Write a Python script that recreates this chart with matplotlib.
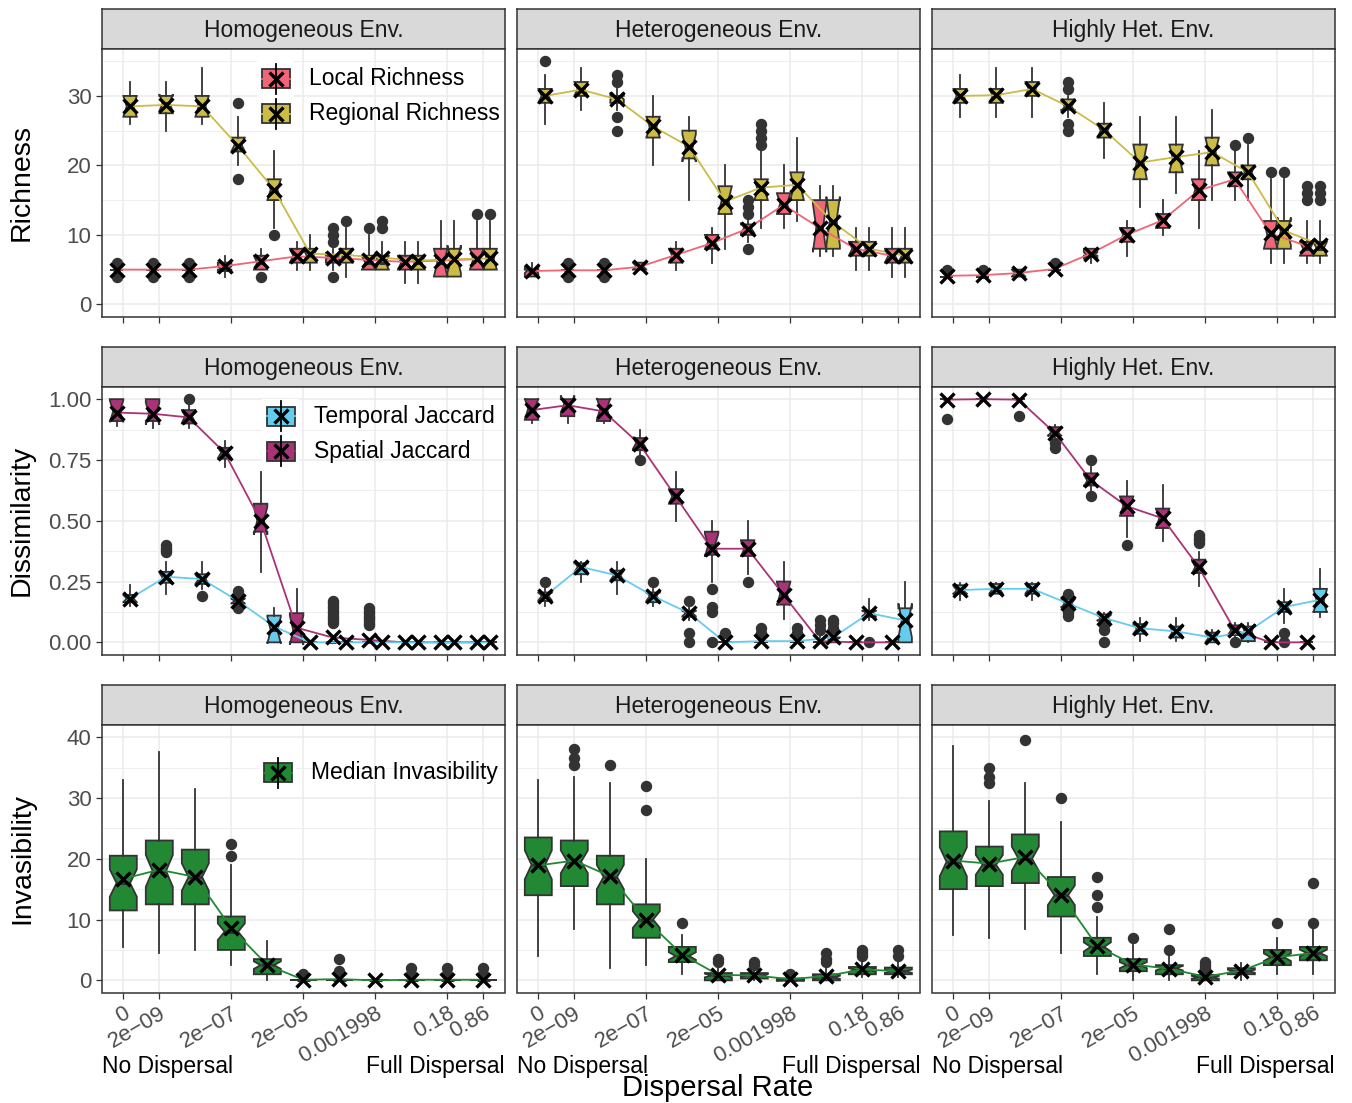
import numpy as np
import matplotlib
matplotlib.use("Agg")
import matplotlib.pyplot as plt
from matplotlib.patches import Rectangle
from matplotlib.lines import Line2D

plt.rcParams['font.family'] = ['Liberation Sans', 'DejaVu Sans']

W, H, DPI = 1352, 1103, 100

# ---------------------------------------------------------------- data
envs = ['Homogeneous Env.', 'Heterogeneous Env.', 'Highly Het. Env.']
x_ticks = [0, 1, 3, 5, 7, 9, 10]
x_labels = ['0', '2e\u221209', '2e\u221207', '2e\u221205', '0.001998', '0.18', '0.86']

# each box row: [whisker low, q1, median, q3, whisker high]
# --- Richness
local_hom = [[5, 5, 5, 5, 5], [5, 5, 5, 5, 5], [5, 5, 5, 5, 5], [4, 5, 5, 6, 7],
             [5, 5, 6, 7, 8], [5, 6, 7, 8, 9], [5, 6, 7, 7, 8], [5, 5, 6, 7, 10],
             [3, 5, 6, 7, 9], [4, 4, 6, 8, 12], [5, 5, 6.5, 8, 12]]
local_hom_out = [[4, 6], [4, 6], [4, 6], [], [4], [], [4, 9, 10, 11], [11], [], [], [13]]
local_hom_mean = [5.0, 5.0, 5.0, 5.5, 6.2, 6.9, 6.7, 6.4, 6.1, 6.3, 6.5]

regional_hom = [[26, 27, 28.5, 30, 32], [25, 27.5, 29, 30, 32], [26, 27, 28.5, 30, 34],
                [20, 22, 23, 24, 27], [11, 15, 16.5, 18, 22], [5, 6, 7, 8, 10],
                [4, 6, 7, 8, 11], [5, 5, 6, 7, 9], [3, 5, 6, 7, 9], [4, 4, 6.5, 8, 12],
                [5, 5, 6.5, 8, 12]]
regional_hom_out = [[], [], [], [18, 29], [10], [], [12], [11, 12], [], [], [13]]
regional_hom_mean = [28.5, 28.7, 28.5, 22.8, 16.5, 7.3, 7.1, 6.7, 6.3, 6.5, 6.6]

local_het = [[4, 4, 5, 5, 6], [5, 5, 5, 5, 5], [5, 5, 5, 5, 5], [5, 5, 5.5, 6, 6],
             [5, 6, 7, 8, 9], [6, 8, 9, 10, 11], [9, 10, 11, 11.5, 12], [11, 13, 14.5, 16, 20],
             [7, 8, 11, 15, 17], [5, 7, 8, 9, 11], [4, 6, 7, 8, 11]]
local_het_out = [[], [4, 6], [4, 6], [], [], [], [8, 13, 14, 15], [], [], [], []]
local_het_mean = [4.8, 4.9, 4.9, 5.4, 7.1, 8.8, 10.9, 14.3, 11.0, 8.0, 7.0]

regional_het = [[26, 29, 30, 31, 33], [28, 30, 31, 32, 34], [28, 29, 30, 30, 31],
                [20, 24, 25.5, 27, 30], [15, 21, 22.5, 25, 27], [8, 13, 15, 17, 20],
                [11, 15, 16.5, 18, 22], [12, 15, 17, 19, 24], [7, 8, 12, 15, 17],
                [5, 7, 8, 9, 11], [4, 6, 7, 8, 11]]
regional_het_out = [[35], [], [25, 27, 32, 33], [], [], [], [23, 24, 25, 26], [], [], [], []]
regional_het_mean = [30.0, 30.9, 29.5, 25.6, 22.7, 14.8, 16.8, 17.2, 11.8, 8.0, 7.0]

local_hhet = [[4, 4, 4, 4, 4], [4, 4, 4, 4, 4], [4, 4, 4.5, 5, 5], [5, 5, 5, 5, 5],
              [6, 7, 7, 8, 8], [7, 9, 10, 11, 12], [10, 11, 12, 13, 15], [11, 15, 16.5, 18, 22],
              [15, 17, 18, 19, 22], [6, 8, 10, 12, 18], [6, 7, 8, 9, 12]]
local_hhet_out = [[5], [5], [], [6], [], [], [], [], [23], [19], [15, 16, 17]]
local_hhet_mean = [4.1, 4.2, 4.5, 5.1, 7.3, 10.0, 12.1, 16.4, 18.0, 10.2, 8.4]

regional_hhet = [[27, 29, 30, 31, 33], [27, 29, 30, 31, 34], [27, 30, 31, 32, 34],
                 [27, 28, 28.5, 29.5, 30], [21, 24, 25, 26, 29], [14, 18, 20.5, 23, 27],
                 [16, 19, 21, 23, 27], [15, 20, 22, 24, 28], [15, 18, 19, 20, 23],
                 [6, 8, 10.5, 12, 18], [6, 7, 8, 9, 12]]
regional_hhet_out = [[], [], [], [25, 26, 31, 32], [], [], [], [], [24], [19], [15, 16, 17]]
regional_hhet_mean = [30.0, 30.1, 31.0, 28.5, 25.1, 20.4, 21.2, 21.9, 19.0, 10.6, 8.6]

# --- Dissimilarity
spatial_hom = [[0.89, 0.91, 0.95, 1.0, 1.0], [0.88, 0.91, 0.94, 1.0, 1.0],
               [0.88, 0.90, 0.93, 0.955, 0.98], [0.72, 0.755, 0.78, 0.80, 0.83],
               [0.29, 0.455, 0.50, 0.57, 0.70], [0.0, 0.0, 0.05, 0.12, 0.22],
               [0, 0, 0, 0, 0], [0, 0, 0, 0, 0], [0, 0, 0, 0, 0], [0, 0, 0, 0, 0], [0, 0, 0, 0, 0]]
spatial_hom_out = [[], [], [1.0], [], [], [],
                   [0.08, 0.09, 0.10, 0.11, 0.12, 0.13, 0.14, 0.15, 0.16, 0.17],
                   [0.07, 0.08, 0.09, 0.10, 0.11, 0.12, 0.13, 0.14], [], [], []]
spatial_hom_mean = [0.945, 0.94, 0.925, 0.78, 0.50, 0.06, 0.02, 0.01, 0.0, 0.0, 0.0]

temporal_hom = [[0.15, 0.165, 0.18, 0.195, 0.235], [0.20, 0.245, 0.265, 0.29, 0.33],
                [0.22, 0.24, 0.26, 0.28, 0.33], [0.15, 0.16, 0.17, 0.18, 0.19],
                [0.0, 0.0, 0.05, 0.11, 0.14], [0, 0, 0, 0, 0], [0, 0, 0, 0, 0],
                [0, 0, 0, 0, 0], [0, 0, 0, 0, 0], [0, 0, 0, 0, 0], [0, 0, 0, 0, 0]]
temporal_hom_out = [[], [0.37, 0.38, 0.39, 0.40], [0.19], [0.14, 0.20, 0.21], [], [], [], [], [], [], []]
temporal_hom_mean = [0.18, 0.27, 0.26, 0.17, 0.065, 0.0, 0.0, 0.0, 0.0, 0.0, 0.0]

spatial_het = [[0.90, 0.915, 0.96, 1.0, 1.0], [0.90, 0.93, 0.98, 1.0, 1.0],
               [0.90, 0.91, 0.96, 1.0, 1.0], [0.77, 0.79, 0.82, 0.84, 0.875],
               [0.50, 0.57, 0.60, 0.63, 0.70], [0.25, 0.36, 0.40, 0.455, 0.50],
               [0.28, 0.355, 0.385, 0.42, 0.50], [0.095, 0.155, 0.20, 0.25, 0.33],
               [0, 0, 0, 0, 0.02], [0, 0, 0, 0, 0], [0, 0, 0, 0, 0]]
spatial_het_out = [[], [], [], [0.75], [], [0.0, 0.125, 0.145, 0.22], [0.25], [],
                   [0.05, 0.07, 0.09], [], []]
spatial_het_mean = [0.955, 0.975, 0.95, 0.815, 0.60, 0.385, 0.385, 0.195, 0.005, 0.0, 0.0]

temporal_het = [[0.15, 0.17, 0.19, 0.205, 0.23], [0.25, 0.28, 0.31, 0.325, 0.33],
                [0.20, 0.255, 0.275, 0.295, 0.33], [0.15, 0.165, 0.19, 0.205, 0.22],
                [0.09, 0.105, 0.12, 0.13, 0.15], [0, 0, 0, 0, 0], [0, 0, 0, 0, 0],
                [0, 0, 0, 0, 0], [0, 0, 0.01, 0.02, 0.03], [0.09, 0.105, 0.12, 0.13, 0.18],
                [0.0, 0.0, 0.09, 0.14, 0.25]]
temporal_het_out = [[0.25], [], [], [0.25], [0.0, 0.04, 0.17], [0.04], [0.04, 0.06],
                    [0.04, 0.06], [0.06, 0.08, 0.09], [0.0], []]
temporal_het_mean = [0.19, 0.31, 0.275, 0.19, 0.12, 0.0, 0.005, 0.005, 0.02, 0.12, 0.09]

spatial_hhet = [[1, 1, 1, 1, 1], [1, 1, 1, 1, 1], [1, 1, 1, 1, 1],
                [0.835, 0.85, 0.865, 0.885, 0.895], [0.62, 0.645, 0.665, 0.695, 0.72],
                [0.435, 0.52, 0.56, 0.60, 0.665], [0.415, 0.47, 0.51, 0.55, 0.645],
                [0.23, 0.285, 0.31, 0.34, 0.37], [0.01, 0.03, 0.05, 0.07, 0.08],
                [0, 0, 0, 0, 0], [0, 0, 0, 0, 0]]
spatial_hhet_out = [[0.92], [], [0.93], [0.80, 0.82], [0.60, 0.75], [0.40], [],
                    [0.41, 0.42, 0.43, 0.44], [0.0], [], []]
spatial_hhet_mean = [0.998, 1.0, 0.998, 0.862, 0.667, 0.56, 0.51, 0.31, 0.05, 0.0, 0.0]

temporal_hhet = [[0.175, 0.20, 0.215, 0.235, 0.245], [0.20, 0.20, 0.22, 0.24, 0.245],
                 [0.175, 0.20, 0.22, 0.24, 0.245], [0.13, 0.145, 0.16, 0.18, 0.19],
                 [0.085, 0.09, 0.10, 0.115, 0.12], [0.005, 0.035, 0.055, 0.075, 0.10],
                 [0.005, 0.02, 0.045, 0.065, 0.10], [0.0, 0.0, 0.02, 0.04, 0.05],
                 [0.0, 0.005, 0.045, 0.065, 0.08], [0.08, 0.125, 0.145, 0.165, 0.22],
                 [0.105, 0.125, 0.17, 0.22, 0.30]]
temporal_hhet_out = [[], [], [], [0.11, 0.12, 0.13, 0.20], [0.0, 0.05, 0.07], [], [], [], [],
                     [0.0, 0.04], []]
temporal_hhet_mean = [0.215, 0.22, 0.22, 0.16, 0.10, 0.058, 0.045, 0.02, 0.045, 0.145, 0.175]

# --- Invasibility
inv_hom = [[5.5, 11.5, 16, 20.5, 33], [4.5, 12.5, 18, 23, 37.5], [5, 12.5, 17, 21.5, 31.5],
           [2.5, 5, 8, 10.5, 19], [0, 1, 2.5, 3.5, 6.5], [0, 0, 0, 0, 0], [0, 0, 0, 0, 0],
           [0, 0, 0, 0, 0], [0, 0, 0, 0, 0], [0, 0, 0, 0, 0], [0, 0, 0, 0, 0]]
inv_hom_out = [[], [], [], [20.5, 22.5], [], [1.0], [1.5, 3.5], [], [1, 2], [1, 2], [1, 2]]
inv_hom_mean = [16.7, 18.2, 17.0, 8.6, 2.5, 0.1, 0.2, 0.0, 0.1, 0.1, 0.1]

inv_het = [[4, 14, 19, 23.5, 33], [8.5, 15.5, 19.5, 23, 33.5], [2, 12.5, 17, 20.5, 32.5],
           [2.5, 7, 10, 12.5, 20], [1, 3, 4, 5.5, 7.5], [0, 0, 0.8, 1.2, 2.5],
           [0, 0.3, 0.8, 1.2, 2], [0, 0, 0, 0.3, 0.5], [0, 0, 0.5, 1.0, 2],
           [0.5, 1, 1.7, 2.2, 3.5], [0.5, 1, 1.5, 2.1, 3.5]]
inv_het_out = [[], [35.5, 36.5, 38], [35.5], [28, 32], [9.5], [3, 3.5], [2.5, 3], [1.0],
               [3, 3.5, 4.5], [4, 4.5, 5], [4, 5]]
inv_het_mean = [18.9, 19.7, 17.1, 9.9, 4.2, 0.9, 0.8, 0.2, 0.7, 1.8, 1.5]

inv_hhet = [[7.5, 15, 19.5, 24.5, 38.5], [7, 15.5, 19, 22, 29.5], [8.5, 16, 20, 24, 32.5],
            [4.5, 10.5, 14, 17, 26], [1, 4, 5.5, 7, 10.5], [0, 1.5, 2.5, 3.5, 5.8],
            [0, 1, 2, 2.5, 4], [0, 0, 0.5, 0.9, 1.5], [0, 1, 1.5, 2, 2.8],
            [1, 2.5, 3.8, 5, 7], [1, 3.3, 4.5, 5.5, 8.5]]
inv_hhet_out = [[], [32.5, 33.5, 35], [39.5], [30], [12, 14, 17], [7], [5, 8.5], [2, 2.5, 3],
                [], [9.5], [9.5, 16]]
inv_hhet_mean = [19.7, 19.2, 20.3, 14.0, 5.6, 2.6, 1.9, 0.6, 1.6, 3.8, 4.5]

# ---------------------------------------------------------------- styling
C_LOCAL, C_REGIONAL = '#EE6677', '#CCBB44'
C_TEMPORAL, C_SPATIAL = '#66CCEE', '#AA3377'
C_INV = '#228833'
DARK = '#333333'

col_left = [101.7, 516.7, 931.7]
panel_w = 403.3
strip_top = [9.0, 347.0, 685.0]
strip_h = 40.0
panel_h = 267.5

fig = plt.figure(figsize=(W / DPI, H / DPI), dpi=DPI)


def px_axes(left, top, w, h):
    return fig.add_axes([left / W, 1 - (top + h) / H, w / W, h / H])


def draw_boxes(ax, stats, fliers, color, offset, width, n):
    pos = np.arange(len(stats)) + offset
    bstats = []
    for (lo, q1, med, q3, hi), fl in zip(stats, fliers):
        half = 1.58 * (q3 - q1) / np.sqrt(n)
        bstats.append(dict(whislo=lo, q1=q1, med=med, q3=q3, whishi=hi,
                           fliers=fl, cilo=med - half, cihi=med + half))
    ax.bxp(bstats, positions=pos, widths=width, shownotches=True, patch_artist=True,
           showcaps=False, manage_ticks=False, zorder=2,
           boxprops=dict(facecolor=color, edgecolor=DARK, linewidth=1.3),
           whiskerprops=dict(color=DARK, linewidth=1.3),
           medianprops=dict(color=DARK, linewidth=2.2),
           flierprops=dict(marker='o', markerfacecolor=DARK, markeredgecolor=DARK,
                           markersize=7.2))


def draw_mean(ax, means, color, offset):
    pos = np.arange(len(means)) + offset
    ax.plot(pos, means, color=color, lw=1.3, zorder=3)
    ax.plot(pos, means, ls='none', marker='x', ms=10.5, mew=2.4, color='black', zorder=4)


def add_key(ax, bg_left, bg_top, i, color, label, ph):
    T = ax.transAxes
    fx = lambda p: p / panel_w
    fy = lambda p: 1 - p / ph
    kx, ky = bg_left, bg_top + 35 * i
    cx, cy = kx + 18.5, ky + 17.5
    ax.add_patch(Rectangle((fx(kx), fy(ky + 35)), fx(37), 35 / ph, transform=T,
                           facecolor='white', edgecolor='none', zorder=6))
    ax.add_patch(Rectangle((fx(kx + 4.5), fy(cy + 9.5)), fx(28), 19 / ph, transform=T,
                           facecolor=color, edgecolor=DARK, lw=1.3, zorder=7))
    ax.add_line(Line2D([fx(kx + 4.5), fx(kx + 32.5)], [fy(cy), fy(cy)], transform=T,
                       color=color, lw=1.3, zorder=8))
    ax.add_line(Line2D([fx(cx), fx(cx)], [fy(cy - 15), fy(cy + 15)], transform=T,
                       color='black', lw=1.3, zorder=8))
    ax.plot([fx(cx)], [fy(cy)], transform=T, marker='x', ms=10.5, mew=2.4,
            color='black', zorder=9)
    ax.text(fx(kx + 52), fy(cy), label, transform=T, ha='left', va='center',
            fontsize=16.5, color='black', zorder=9)


rows = [
    dict(title='Richness', ylim=(-1.75, 36.75), yt=[0, 10, 20, 30], ym=[5, 15, 25, 35],
         fmt='{:.0f}', n=10,
         series=[[(local_hom, local_hom_out, local_hom_mean, C_LOCAL),
                  (regional_hom, regional_hom_out, regional_hom_mean, C_REGIONAL)],
                 [(local_het, local_het_out, local_het_mean, C_LOCAL),
                  (regional_het, regional_het_out, regional_het_mean, C_REGIONAL)],
                 [(local_hhet, local_hhet_out, local_hhet_mean, C_LOCAL),
                  (regional_hhet, regional_hhet_out, regional_hhet_mean, C_REGIONAL)]],
         legend=[('Local Richness', C_LOCAL), ('Regional Richness', C_REGIONAL)],
         key_pos=(155.3, 12.4)),
    dict(title='Dissimilarity', ylim=(-0.05, 1.05), yt=[0, 0.25, 0.5, 0.75, 1.0],
         ym=[0.125, 0.375, 0.625, 0.875], fmt='{:.2f}', n=10,
         series=[[(spatial_hom, spatial_hom_out, spatial_hom_mean, C_SPATIAL),
                  (temporal_hom, temporal_hom_out, temporal_hom_mean, C_TEMPORAL)],
                 [(spatial_het, spatial_het_out, spatial_het_mean, C_SPATIAL),
                  (temporal_het, temporal_het_out, temporal_het_mean, C_TEMPORAL)],
                 [(spatial_hhet, spatial_hhet_out, spatial_hhet_mean, C_SPATIAL),
                  (temporal_hhet, temporal_hhet_out, temporal_hhet_mean, C_TEMPORAL)]],
         legend=[('Temporal Jaccard', C_TEMPORAL), ('Spatial Jaccard', C_SPATIAL)],
         key_pos=(160.3, 11.9)),
    dict(title='Invasibility', ylim=(-2.0, 42.0), yt=[0, 10, 20, 30, 40],
         ym=[5, 15, 25, 35], fmt='{:.0f}', n=40,
         series=[[(inv_hom, inv_hom_out, inv_hom_mean, C_INV)],
                 [(inv_het, inv_het_out, inv_het_mean, C_INV)],
                 [(inv_hhet, inv_hhet_out, inv_hhet_mean, C_INV)]],
         legend=[('Median Invasibility', C_INV)],
         key_pos=(157.3, 30.2)),
]

for r, row in enumerate(rows):
    for c in range(3):
        sax = px_axes(col_left[c], strip_top[r], panel_w, strip_h)
        sax.set_facecolor('#D9D9D9')
        sax.set_xticks([])
        sax.set_yticks([])
        for sp in sax.spines.values():
            sp.set_color(DARK)
            sp.set_linewidth(1.1)
        sax.text(0.5, 0.47, envs[c], ha='center', va='center', fontsize=16.5,
                 color='#1A1A1A', transform=sax.transAxes)

        ax = px_axes(col_left[c], strip_top[r] + strip_h, panel_w, panel_h)
        ax.set_facecolor('white')
        ax.set_xlim(-0.6, 10.6)
        ax.set_ylim(*row['ylim'])
        ax.set_xticks(x_ticks)
        ax.set_yticks(row['yt'])
        ax.set_yticks(row['ym'], minor=True)
        ax.set_yticklabels([row['fmt'].format(v) for v in row['yt']])
        ax.grid(which='major', color='#EBEBEB', lw=1.1)
        ax.grid(which='minor', axis='y', color='#EBEBEB', lw=0.6)
        ax.set_axisbelow(True)
        for sp in ax.spines.values():
            sp.set_color(DARK)
            sp.set_linewidth(1.1)
            sp.set_zorder(10)
        ax.tick_params(which='major', length=4.3, width=0.9, color=DARK,
                       labelsize=16, labelcolor='#4D4D4D', pad=3)
        ax.tick_params(which='minor', length=0)
        if c > 0:
            ax.tick_params(axis='y', left=False, labelleft=False)
        if r < 2:
            ax.tick_params(axis='x', labelbottom=False)
        else:
            ax.set_xticklabels(x_labels, rotation=30, ha='right', va='top',
                               rotation_mode='anchor')

        groups = row['series'][c]
        if len(groups) == 2:
            offsets, width = [-0.1875, 0.1875], 0.375
        else:
            offsets, width = [0.0], 0.75
        for (st, out, mean, col), off in zip(groups, offsets):
            draw_boxes(ax, st, out, col, off, width, row['n'])
        for (st, out, mean, col), off in zip(groups, offsets):
            draw_mean(ax, mean, col, off)

        if c == 0:
            bx, by = row['key_pos']
            for i, (lab, col) in enumerate(row['legend']):
                add_key(ax, bx, by, i, col, lab, panel_h)

    yc = strip_top[r] + strip_h + panel_h / 2
    fig.text(22 / W, 1 - yc / H, row['title'], rotation=90, ha='center', va='center',
             fontsize=20.5, color='black')

for c in range(3):
    fig.text(col_left[c] / W, 1 - 1066 / H, 'No Dispersal', ha='left', va='center',
             fontsize=16.5, color='black')
    fig.text((col_left[c] + panel_w) / W, 1 - 1066 / H, 'Full Dispersal', ha='right',
             va='center', fontsize=16.5, color='black')

fig.text(718 / W, 1 - 1088 / H, 'Dispersal Rate', ha='center', va='center',
         fontsize=21, color='black')

fig.savefig('out.png', dpi=DPI, facecolor='white')
